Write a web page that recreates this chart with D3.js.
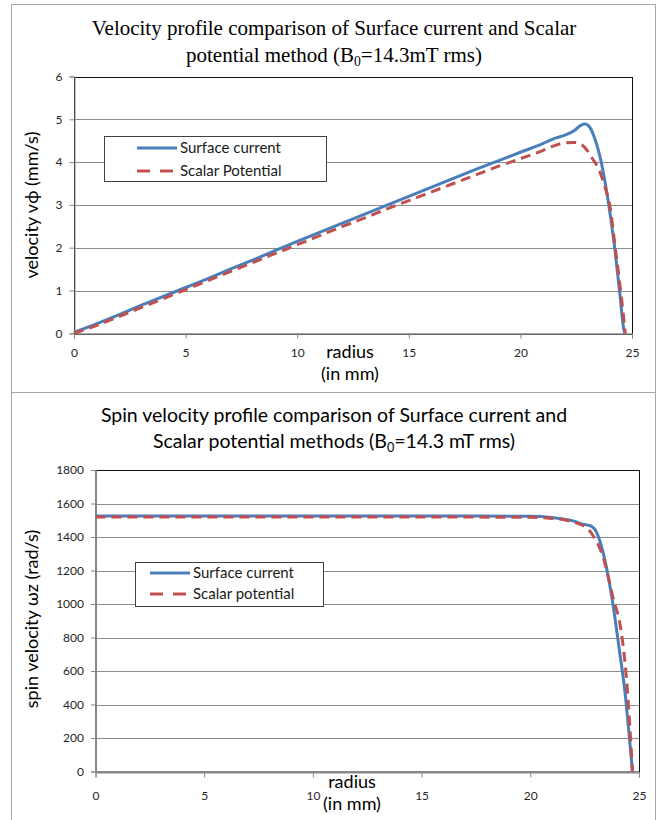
<!DOCTYPE html>
<html>
<head>
<meta charset="utf-8">
<script src="https://cdn.jsdelivr.net/npm/d3@7"></script>
<style>
  body { margin: 0; background: #fff; }
  text { font-family: Lato, "Liberation Sans", sans-serif; }
</style>
</head>
<body>
<div class="charts"></div>
<script>
// radius ticks shared by both charts
const radiusTicks = [0, 5, 10, 15, 20, 25];

// chart 1 : velocity v_phi (mm/s)
const velTicks = [0, 1, 2, 3, 4, 5, 6];
const velRadiusSurface = [0, 1, 2, 3, 4, 5, 6, 7, 8, 9, 10, 11, 12, 13, 14, 15, 16, 17, 18, 19, 20, 21, 21.5, 22, 22.4, 22.7, 22.9, 23.1, 23.3, 23.6, 23.9, 24.2, 24.45, 24.65, 24.7];
const velSurface = [0.02, 0.22, 0.43, 0.65, 0.86, 1.07, 1.28, 1.5, 1.71, 1.93, 2.15, 2.36, 2.57, 2.78, 2.99, 3.2, 3.41, 3.62, 3.83, 4.03, 4.23, 4.43, 4.55, 4.63, 4.73, 4.86, 4.89, 4.82, 4.6, 4.05, 3.2, 2.1, 0.95, 0.05, 0];
const velRadiusScalar = [0, 1, 2, 3, 4, 5, 6, 7, 8, 9, 10, 11, 12, 13, 14, 15, 16, 17, 18, 19, 20, 21, 21.5, 22, 22.4, 22.7, 23, 23.2, 23.5, 23.8, 24, 24.25, 24.5, 24.7];
const velScalar = [0, 0.18, 0.39, 0.6, 0.81, 1.02, 1.23, 1.44, 1.65, 1.86, 2.07, 2.28, 2.49, 2.69, 2.9, 3.1, 3.3, 3.5, 3.7, 3.9, 4.08, 4.27, 4.38, 4.45, 4.46, 4.42, 4.27, 4.1, 3.85, 3.4, 3.0, 2.0, 0.95, 0];

// chart 2 : spin velocity omega_z (rad/s)
const spinTicks = [0, 200, 400, 600, 800, 1000, 1200, 1400, 1600, 1800];
const spinRadiusSurface = [0, 5, 10, 15, 20, 20.5, 21, 21.5, 22, 22.4, 22.8, 23.0, 23.15, 23.5, 23.8, 24.1, 24.35, 24.57, 24.7];
const spinSurface = [1525, 1525, 1525, 1525, 1524, 1522, 1516, 1507, 1495, 1477, 1465, 1440, 1395, 1220, 1000, 722, 480, 185, 0];
const spinRadiusScalar = [0, 5, 10, 15, 20, 20.5, 21, 21.5, 22, 22.4, 22.7, 22.9, 23.35, 23.8, 24.2, 24.42, 24.57, 24.7];
const spinScalar = [1519, 1519, 1519, 1519, 1518, 1516, 1511, 1504, 1488, 1470, 1442, 1405, 1280, 1040, 820, 560, 285, 0];

const blue = '#4a7ebb';
const red = '#c0504d';

const svg = d3.select('.charts').append('svg')
    .attr('width', 665)
    .attr('height', 820);

function drawChart(c) {
    const g = svg.append('g');

    // outer chart frame
    g.append('rect')
        .attr('x', c.frame[0] + 0.5).attr('y', c.frame[1] + 0.5)
        .attr('width', c.frame[2]).attr('height', c.frame[3])
        .attr('fill', 'white').attr('stroke', '#a6a6a6').attr('stroke-width', 1);

    const x = d3.scaleLinear().domain([0, 25]).range([c.left, c.right]);
    const y = d3.scaleLinear().domain([0, c.yMax]).range([c.bottom, c.top]);

    // gridlines
    g.selectAll('.grid')
        .data(c.yTicks.slice(1))
        .enter().append('line')
        .attr('x1', c.left).attr('x2', c.right)
        .attr('y1', d => Math.round(y(d)) + 0.5).attr('y2', d => Math.round(y(d)) + 0.5)
        .attr('stroke', '#8c8c8c');

    // plot border (top / right)
    g.append('rect')
        .attr('x', c.left + 0.5).attr('y', Math.round(c.top) + 0.5)
        .attr('width', c.right - c.left).attr('height', c.bottom - c.top)
        .attr('fill', 'none').attr('stroke', '#111');

    // axes
    const yAxis = d3.axisLeft(y).tickValues(c.yTicks).tickFormat(d3.format('d')).tickSize(5).tickPadding(7);
    const xAxis = d3.axisBottom(x).tickValues(radiusTicks).tickFormat(d3.format('d')).tickSize(5).tickPadding(c.xPad);
    const ya = g.append('g').attr('transform', `translate(${c.left + 0.5},0)`).call(yAxis);
    const xa = g.append('g').attr('transform', `translate(0,${Math.round(c.bottom) + 0.5})`).call(xAxis);
    [ya, xa].forEach(a => {
        a.selectAll('path, line').attr('stroke', '#868686');
        a.selectAll('text').attr('font-size', 12).attr('fill', '#262626')
            .style('font-family', 'Lato, sans-serif');
    });

    // series
    const line = (rs, vs) => d3.line()
        .x((d, i) => x(rs[i]))
        .y(d => y(d))
        .curve(d3.curveMonotoneX)(vs);

    g.append('path')
        .attr('d', line(c.rSurface, c.vSurface))
        .attr('fill', 'none').attr('stroke', blue).attr('stroke-width', 3);
    g.append('path')
        .attr('d', line(c.rScalar, c.vScalar))
        .attr('fill', 'none').attr('stroke', red).attr('stroke-width', 3)
        .attr('stroke-dasharray', '10,6');

    // title
    const t = g.append('text')
        .attr('text-anchor', 'middle')
        .attr('font-size', c.titleSize)
        .attr('fill', '#000')
        .style('font-family', c.titleFont);
    t.append('tspan').attr('x', 334).attr('y', c.titleY[0]).text(c.title[0]);
    const t2 = t.append('tspan').attr('x', 334).attr('y', c.titleY[1]);
    t2.append('tspan').text(c.title[1]);
    t2.append('tspan').attr('font-size', c.titleSize * 0.65).attr('dy', 4).text('0');
    t2.append('tspan').attr('dy', -4).text(c.title[2]);

    // axis titles
    g.append('text')
        .attr('transform', `translate(${c.yLabelX},${c.yLabelY}) rotate(-90)`)
        .attr('text-anchor', 'middle')
        .attr('font-size', 18)
        .attr('fill', '#000')
        .text(c.yLabel);
    const xl = g.append('text')
        .attr('text-anchor', 'middle')
        .attr('font-size', 18)
        .attr('fill', '#000');
    xl.append('tspan').attr('x', c.xLabelX).attr('y', c.xLabelY).text('radius');
    xl.append('tspan').attr('x', c.xLabelX).attr('y', c.xLabelY + 22).text('(in mm)');

    // legend
    const lg = g.append('g').attr('transform', `translate(${c.legend[0]},${c.legend[1]})`);
    lg.append('rect')
        .attr('x', 0.5).attr('y', 0.5)
        .attr('width', c.legend[2]).attr('height', c.legend[3])
        .attr('fill', 'white').attr('stroke', '#404040');
    const items = [
        {name: 'Surface current', color: blue, dash: null},
        {name: c.scalarName, color: red, dash: '13,10'}
    ];
    items.forEach((it, i) => {
        const yy = c.legendRows[i];
        lg.append('line')
            .attr('x1', c.legendSample[0]).attr('x2', c.legendSample[1])
            .attr('y1', yy).attr('y2', yy)
            .attr('stroke', it.color).attr('stroke-width', 3)
            .attr('stroke-dasharray', it.dash);
        lg.append('text')
            .attr('x', c.legendSample[1] + 3).attr('y', yy + 5)
            .attr('font-size', 15)
            .attr('fill', '#1a1a1a')
            .text(it.name);
    });
}

drawChart({
    frame: [11, 4, 644, 388],
    left: 74, right: 632, top: 76.5, bottom: 333.3,
    yMax: 6, yTicks: velTicks, xPad: 10,
    rSurface: velRadiusSurface, vSurface: velSurface,
    rScalar: velRadiusScalar, vScalar: velScalar,
    title: ['Velocity profile comparison of Surface current and Scalar', 'potential method (B', '=14.3mT rms)'],
    titleY: [35, 62], titleSize: 21, titleFont: '"Liberation Serif", serif',
    yLabelX: 38, yLabelY: 205, yLabel: 'velocity v\u03d5 (mm/s)',
    xLabelX: 350, xLabelY: 358,
    legend: [104, 136, 222, 45], legendSample: [33, 73], legendRows: [12, 35],
    scalarName: 'Scalar Potential'
});

drawChart({
    frame: [11, 392, 644, 440],
    left: 95.5, right: 639, top: 470, bottom: 771.5,
    yMax: 1800, yTicks: spinTicks, xPad: 14,
    rSurface: spinRadiusSurface, vSurface: spinSurface,
    rScalar: spinRadiusScalar, vScalar: spinScalar,
    title: ['Spin velocity profile comparison of Surface current and', 'Scalar potential methods (B', '=14.3 mT rms)'],
    titleY: [422, 448], titleSize: 19.5, titleFont: 'Lato, sans-serif',
    yLabelX: 38, yLabelY: 619, yLabel: 'spin velocity \u03c9z (rad/s)',
    xLabelX: 352, xLabelY: 788,
    legend: [135, 562, 188, 44], legendSample: [15, 55], legendRows: [11, 32],
    scalarName: 'Scalar potential'
});
</script>
</body>
</html>
